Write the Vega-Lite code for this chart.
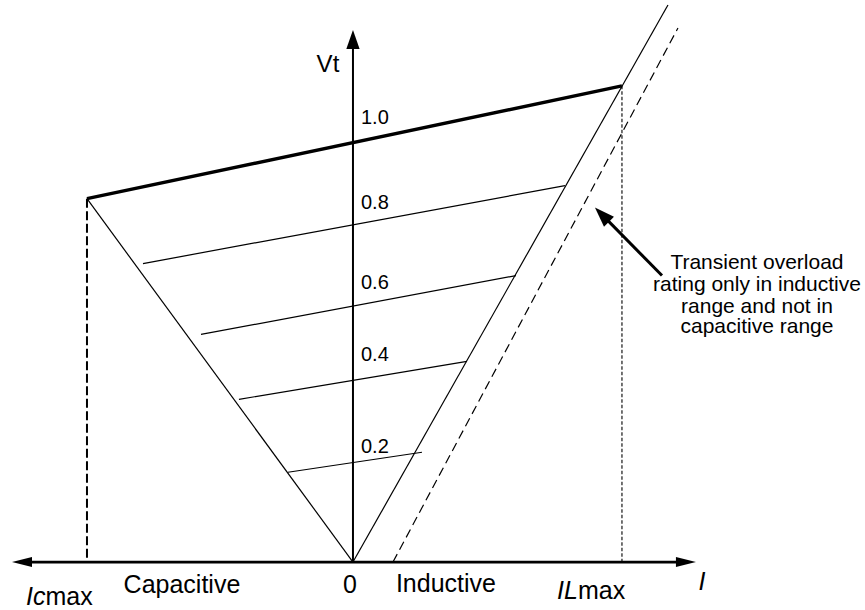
{
  "$schema": "https://vega.github.io/schema/vega-lite/v6.json",
  "width": 865,
  "height": 610,
  "padding": 0,
  "autosize": {"type": "fit", "contains": "padding"},
  "background": "white",
  "config": {"view": {"stroke": null}, "text": {"font": "Liberation Sans", "color": "black"}},
  "datasets": {
    "segments": [
      {"name": "I axis", "kind": "Iaxis", "I": -1.2143, "V": 0, "I2": 1.2256, "V2": 0},
      {"name": "Vt axis", "kind": "Vaxis", "I": 0, "V": 0, "I2": 0, "V2": 1.2286},
      {"name": "rated limit", "kind": "rating", "I": -1.0, "V": 0.8667, "I2": 1.0113, "V2": 1.1357},
      {"name": "capacitive boundary", "kind": "thin", "I": -1.0, "V": 0.8667, "I2": 0, "V2": 0},
      {"name": "inductive boundary", "kind": "thin", "I": 0, "V": 0, "I2": 1.1842, "V2": 1.3286},
      {"name": "0.8", "kind": "thin", "I": -0.7895, "V": 0.7119, "I2": 0.797, "V2": 0.8976},
      {"name": "0.6", "kind": "thin", "I": -0.5714, "V": 0.5429, "I2": 0.6128, "V2": 0.6833},
      {"name": "0.4", "kind": "thin", "I": -0.4286, "V": 0.3881, "I2": 0.4286, "V2": 0.4786},
      {"name": "0.2", "kind": "thin", "I": -0.2444, "V": 0.2143, "I2": 0.2594, "V2": 0.2619},
      {"name": "transient overload", "kind": "overload", "I": 0.1504, "V": 0, "I2": 1.2218, "V2": 1.2738},
      {"name": "Icmax guide", "kind": "guideC", "I": -1.0, "V": 0.8667, "I2": -1.0, "V2": 0},
      {"name": "ILmax guide", "kind": "guideL", "I": 1.0113, "V": 1.1357, "I2": 1.0113, "V2": 0},
      {"name": "callout", "kind": "callout", "I": 1.1617, "V": 0.6833, "I2": 0.9549, "V2": 0.8167}
    ],
    "labels": [
      {"text": "Vt", "kind": "axisName", "I": -0.094, "V": 1.1857},
      {"text": "I", "kind": "axisNameItalic", "I": 1.312, "V": -0.0476},
      {"text": "1.0", "kind": "level", "I": 0.0301, "V": 1.0595},
      {"text": "0.8", "kind": "level", "I": 0.0301, "V": 0.8571},
      {"text": "0.6", "kind": "level", "I": 0.0301, "V": 0.6667},
      {"text": "0.4", "kind": "level", "I": 0.0301, "V": 0.4929},
      {"text": "0.2", "kind": "level", "I": 0.0301, "V": 0.2738},
      {"text": "0", "kind": "axisLabel", "I": -0.0113, "V": -0.0548},
      {"text": "Capacitive", "kind": "axisLabel", "I": -0.6429, "V": -0.0548},
      {"text": "Inductive", "kind": "axisLabel", "I": 0.3496, "V": -0.0524},
      {"text": "Ic", "kind": "maxItalic", "I": -1.156, "V": -0.0833},
      {"text": "max", "kind": "maxRoman", "I": -1.156, "V": -0.0833},
      {"text": "IL", "kind": "maxItalic", "I": 0.8459, "V": -0.069},
      {"text": "max", "kind": "maxRoman", "I": 0.8459, "V": -0.069},
      {"text": "Transient overload", "kind": "note", "I": 1.5188, "V": 0.7143},
      {"text": "rating only in inductive", "kind": "note", "I": 1.5188, "V": 0.6619},
      {"text": "range and not in", "kind": "note", "I": 1.5188, "V": 0.6095},
      {"text": "capacitive range", "kind": "note", "I": 1.5188, "V": 0.5595}
    ],
    "heads": [
      {"name": "I axis left", "I": -1.2444, "V": 0},
      {"name": "I axis right", "I": 1.2519, "V": 0},
      {"name": "Vt axis top", "I": 0, "V": 1.2464},
      {"name": "callout tip", "I": 0.9361, "V": 0.8286}
    ]
  },
  "encoding": {
    "x": {"field": "I", "type": "quantitative", "axis": null, "scale": {"domain": [-1.327, 1.925], "nice": false, "zero": false}},
    "y": {"field": "V", "type": "quantitative", "axis": null, "scale": {"domain": [-0.1119, 1.3405], "nice": false, "zero": false}}
  },
  "layer": [
    {"data": {"name": "segments"}, "transform": [{"filter": "datum.kind == 'Iaxis'"}], "mark": {"type": "rule", "color": "black", "strokeWidth": 2.6}, "encoding": {"x2": {"field": "I2"}, "y2": {"field": "V2"}}},
    {"data": {"name": "segments"}, "transform": [{"filter": "datum.kind == 'Vaxis'"}], "mark": {"type": "rule", "color": "black", "strokeWidth": 2}, "encoding": {"x2": {"field": "I2"}, "y2": {"field": "V2"}}},
    {"data": {"name": "segments"}, "transform": [{"filter": "datum.kind == 'rating'"}], "mark": {"type": "rule", "color": "black", "strokeWidth": 3.4}, "encoding": {"x2": {"field": "I2"}, "y2": {"field": "V2"}}},
    {"data": {"name": "segments"}, "transform": [{"filter": "datum.kind == 'thin'"}], "mark": {"type": "rule", "color": "black", "strokeWidth": 1.2}, "encoding": {"x2": {"field": "I2"}, "y2": {"field": "V2"}}},
    {"data": {"name": "segments"}, "transform": [{"filter": "datum.kind == 'overload'"}], "mark": {"type": "rule", "color": "black", "strokeWidth": 1.2, "strokeDash": [9, 5]}, "encoding": {"x2": {"field": "I2"}, "y2": {"field": "V2"}}},
    {"data": {"name": "segments"}, "transform": [{"filter": "datum.kind == 'guideC'"}], "mark": {"type": "rule", "color": "black", "strokeWidth": 2, "strokeDash": [9, 3.5]}, "encoding": {"x2": {"field": "I2"}, "y2": {"field": "V2"}}},
    {"data": {"name": "segments"}, "transform": [{"filter": "datum.kind == 'guideL'"}], "mark": {"type": "rule", "color": "black", "strokeWidth": 1.1, "strokeDash": [3.5, 2]}, "encoding": {"x2": {"field": "I2"}, "y2": {"field": "V2"}}},
    {"data": {"name": "segments"}, "transform": [{"filter": "datum.kind == 'callout'"}], "mark": {"type": "rule", "color": "black", "strokeWidth": 3}, "encoding": {"x2": {"field": "I2"}, "y2": {"field": "V2"}}},
    {"data": {"name": "heads"}, "transform": [{"filter": "datum.name == 'I axis left'"}], "mark": {"type": "point", "filled": true, "opacity": 1, "color": "black", "shape": "M-1,0L1,-0.5L1,0.5Z", "size": 400}},
    {"data": {"name": "heads"}, "transform": [{"filter": "datum.name == 'I axis right'"}], "mark": {"type": "point", "filled": true, "opacity": 1, "color": "black", "shape": "M1,0L-1,-0.5L-1,0.5Z", "size": 400}},
    {"data": {"name": "heads"}, "transform": [{"filter": "datum.name == 'Vt axis top'"}], "mark": {"type": "point", "filled": true, "opacity": 1, "color": "black", "shape": "M0,-1L-0.7,1L0.7,1Z", "size": 361}},
    {"data": {"name": "heads"}, "transform": [{"filter": "datum.name == 'callout tip'"}], "mark": {"type": "point", "filled": true, "opacity": 1, "color": "black", "shape": "M1,0L-1,-0.7L-1,0.7Z", "size": 400, "angle": 225.4}},
    {"data": {"name": "labels"}, "transform": [{"filter": "datum.kind == 'axisName'"}], "mark": {"type": "text", "fontSize": 24, "align": "center", "baseline": "middle"}, "encoding": {"text": {"field": "text"}}},
    {"data": {"name": "labels"}, "transform": [{"filter": "datum.kind == 'axisNameItalic'"}], "mark": {"type": "text", "fontSize": 25, "fontStyle": "italic", "align": "center", "baseline": "middle"}, "encoding": {"text": {"field": "text"}}},
    {"data": {"name": "labels"}, "transform": [{"filter": "datum.kind == 'level'"}], "mark": {"type": "text", "fontSize": 20, "align": "left", "baseline": "middle"}, "encoding": {"text": {"field": "text"}}},
    {"data": {"name": "labels"}, "transform": [{"filter": "datum.kind == 'axisLabel'"}], "mark": {"type": "text", "fontSize": 25, "align": "center", "baseline": "middle"}, "encoding": {"text": {"field": "text"}}},
    {"data": {"name": "labels"}, "transform": [{"filter": "datum.kind == 'maxItalic'"}], "mark": {"type": "text", "fontSize": 25, "fontStyle": "italic", "align": "right", "baseline": "middle"}, "encoding": {"text": {"field": "text"}}},
    {"data": {"name": "labels"}, "transform": [{"filter": "datum.kind == 'maxRoman'"}], "mark": {"type": "text", "fontSize": 25, "align": "left", "baseline": "middle"}, "encoding": {"text": {"field": "text"}}},
    {"data": {"name": "labels"}, "transform": [{"filter": "datum.kind == 'note'"}], "mark": {"type": "text", "fontSize": 21, "align": "center", "baseline": "middle"}, "encoding": {"text": {"field": "text"}}}
  ]
}
